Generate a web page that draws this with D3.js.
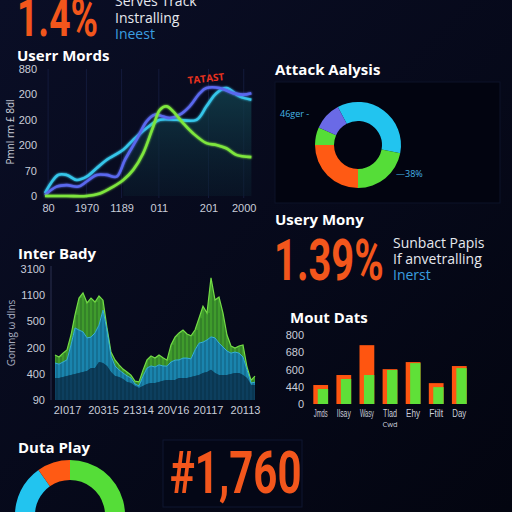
<!DOCTYPE html>
<html lang="en">
<head>
<meta charset="UTF-8">
<title>Dashboard</title>
<script src="https://d3js.org/d3.v7.min.js"></script>
<style>
  body { margin: 0; background: #060a1c; }
  svg { display: block; }
  text { font-family: 'Open Sans', 'DejaVu Sans', sans-serif; }
  .title { font-weight: 700; fill: #ffffff; font-size: 15px; }
  .axis text { fill: #c9cdd9; font-size: 11px; font-family: 'Liberation Sans', sans-serif; }
  .axis path, .axis line { display: none; }
  .big { font-family: Roboto, sans-serif; font-weight: 700; fill: #f2561c; }
  .note { fill: #e6e8ee; font-size: 14px; }
  .note.blue { fill: #3b9fe0; }
</style>
</head>
<body>
<svg width="512" height="512"></svg>
<script>
// ---- line chart (User Mords) ----
const lineTickPos = [1.5, 20, 37, 55, 79, 96];
const lineTickLabels = ["80", "1970", "1189", "011", "201", "2000"];
const lineYLabels = ["0", "70", "200", "200", "200", "880"];
const cyanLine = [[0,0.11],[6.4,0.83],[10.5,0.83],[15.3,0.63],[20.1,0.76],[24.9,1.09],[29.7,1.42],[37.8,1.82],[42.6,2.21],[49,2.67],[55.5,3.0],[63.5,3.0],[73.2,3.0],[78,3.53],[82.8,4.05],[87.6,4.25],[94,3.92],[99.7,3.79]];
const blueLine = [[0,0.04],[5.6,0.37],[10.5,0.43],[16.1,0.37],[20.1,0.57],[24.9,0.83],[29.7,0.83],[34.6,0.76],[38.6,1.42],[44.2,2.21],[49,2.93],[53,3.2],[57.1,3.13],[60.3,3.07],[65.1,3.2],[69.9,3.53],[74.8,4.05],[78,4.25],[84.4,4.25],[90.8,4.05],[95.7,3.99],[99.7,4.05]];
const greenLine = [[0,0],[10.5,0],[20.1,0],[26.5,0.1],[33,0.37],[37.8,0.63],[42.6,1.03],[47.4,1.68],[52.3,2.74],[55.5,3.39],[58.7,3.53],[61.9,3.33],[66.7,2.87],[71.5,2.47],[78,2.08],[82.8,2.01],[87.6,1.88],[92.4,1.62],[99.7,1.53]];

// ---- donut (Attack Aalysis) ----
const attackValues = [129, 79, 90, 24, 38];
const attackColors = ["#22c4ef", "#55dd38", "#ff5a14", "#55dd38", "#6a6ae6"];

// ---- stacked area (Inter Bady) ----
const bodyXLabels = ["2I017", "20315", "21314", "20V16", "20117", "20113"];
const bodyXPos = [3, 12, 20.75, 29.5, 38.25, 47.5];
const bodyYLabels = ["90", "400", "200", "500", "1100", "3100"];
const bodyDark = [0.84,0.84,0.88,0.92,0.95,0.99,1.03,1.07,1.11,1.22,1.22,1.45,1.41,1.30,1.07,0.92,0.88,0.80,0.69,0.65,0.53,0.46,0.53,0.61,0.65,0.65,0.69,0.73,0.76,0.76,0.76,0.84,0.84,0.84,0.88,0.92,0.95,1.03,1.07,1.15,1.03,0.95,0.95,0.95,0.99,1.03,1.03,0.95,0.84,0.57,0.57];
const bodyMid = [0.57,0.53,0.57,0.61,1.15,1.76,1.64,1.53,1.26,1.18,1.34,1.41,2.02,1.37,0.61,0.38,0.27,0.23,0.23,0.19,0.08,0.08,0.38,0.61,0.65,0.61,0.65,0.57,0.53,0.69,0.76,0.69,0.76,0.76,0.69,0.99,1.22,1.18,1.22,1.26,1.34,1.22,1.07,0.92,0.80,0.80,0.76,0.69,0.31,0.08,0.11];
const bodyTop = [0.31,0.27,0.34,0.38,0.38,0.50,1.22,1.49,1.34,1.49,1.18,1.11,0.38,0.08,0.15,0.23,0.19,0.15,0.15,0.11,0.11,0.15,0.23,0.31,0.38,0.34,0.38,0.31,0.23,0.65,0.88,1.03,1.07,0.92,0.88,0.76,0.95,1.37,1.03,2.25,1.45,1.76,1.30,0.61,0.27,0.15,0.27,0.46,0.11,0.11,0.23];

// ---- bars (Mout Dats) ----
const barCats = ["Jmds", "Ilsay", "Wasy", "Tlad", "Ehy", "Ftilt", "Day"];
const barOrange = [1.10, 1.68, 3.41, 2.02, 2.43, 1.21, 2.20];
const barGreen = [0.87, 1.45, 1.68, 1.97, 2.37, 0.98, 2.08];
const barYLabels = ["0", "440", "600", "680", "800"];

// ---- donut (Duta Play) ----
const playValues = [150, 60, 115, 35];
const playColors = ["#55dd38", "#22c4ef", "#22c4ef", "#ff5a14"];

const svg = d3.select("svg");
const defs = svg.append("defs");

const bg = defs.append("linearGradient").attr("id", "bg").attr("x1", 0).attr("y1", 0).attr("x2", 1).attr("y2", 1);
bg.append("stop").attr("offset", "0%").attr("stop-color", "#0a0e26");
bg.append("stop").attr("offset", "100%").attr("stop-color", "#030510");
svg.append("rect").attr("width", 512).attr("height", 512).attr("fill", "url(#bg)");

const fillGrad = defs.append("linearGradient").attr("id", "tealFill").attr("x1", 0).attr("y1", 0).attr("x2", 0).attr("y2", 1);
fillGrad.append("stop").attr("offset", "0%").attr("stop-color", "#12424e").attr("stop-opacity", 0.8);
fillGrad.append("stop").attr("offset", "100%").attr("stop-color", "#0a1c2c").attr("stop-opacity", 0.5);

const glow = defs.append("filter").attr("id", "glow").attr("x", "-10%").attr("y", "-10%").attr("width", "120%").attr("height", "120%");
glow.append("feGaussianBlur").attr("stdDeviation", 1.2).attr("result", "b");
const merge = glow.append("feMerge");
merge.append("feMergeNode").attr("in", "b");
merge.append("feMergeNode").attr("in", "SourceGraphic");

function bigText(x, y, sx, size, str) {
    svg.append("g").attr("transform", `translate(${x},${y}) scale(${sx},1)`)
        .append("text").attr("class", "big").attr("font-size", size).text(str);
}
function note(x, y, str, cls) {
    svg.append("text").attr("class", "note" + (cls ? " " + cls : "")).attr("x", x).attr("y", y).text(str);
}

// header
bigText(17, 36, 0.69, 54, "1.4%");
note(115, 6, "Serves Track");
note(115, 23, "Instralling");
note(115, 39, "Ineest", "blue");

// ===== line chart =====
svg.append("text").attr("class", "title").attr("x", 17).attr("y", 61).text("Userr Mords");

const lx = d3.scaleLinear().domain([0, 100]).range([45, 252]);
const ly = d3.scaleLinear().domain([0, 5]).range([196, 69]);

svg.append("g").selectAll("line").data(lineTickPos).join("line")
    .attr("x1", d => lx(d)).attr("x2", d => lx(d)).attr("y1", 69).attr("y2", 198)
    .attr("stroke", "#141b3c").attr("stroke-width", 1);

const fillPts = cyanLine.filter(d => d[0] >= 37);
svg.append("path").datum(fillPts)
    .attr("fill", "url(#tealFill)")
    .attr("d", d3.area().x(d => lx(d[0])).y0(ly(0)).y1(d => ly(d[1])).curve(d3.curveCatmullRom));

const lineGen = d3.line().x(d => lx(d[0])).y(d => ly(d[1])).curve(d3.curveCatmullRom);
[[cyanLine, "#36c6ea"], [blueLine, "#5a68ee"], [greenLine, "#7ee63e"]].forEach(([data, color]) => {
    svg.append("path").datum(data).attr("fill", "none").attr("stroke", color)
        .attr("stroke-width", 2.6).attr("filter", "url(#glow)").attr("d", lineGen);
});

svg.append("g").attr("class", "axis").attr("transform", "translate(45,0)")
    .call(d3.axisLeft(ly).tickValues(d3.range(6)).tickFormat(i => lineYLabels[i]).tickSize(0).tickPadding(8));
svg.append("g").attr("class", "axis").attr("transform", "translate(0,198)")
    .call(d3.axisBottom(lx).tickValues(lineTickPos).tickFormat((d, i) => lineTickLabels[i]).tickSize(0).tickPadding(6));
svg.append("text").attr("transform", "translate(14,132) rotate(-90)").attr("text-anchor", "middle")
    .attr("fill", "#c9cdd9").attr("font-size", 10).attr("font-family", "Liberation Sans, sans-serif").text("Pmnl rm £ 8dl");
svg.append("text").attr("transform", "translate(188,84) rotate(-6)")
    .attr("fill", "#e8321e").attr("font-size", 10).attr("font-weight", 700).text("TATAST");

// ===== attack donut =====
svg.append("text").attr("class", "title").attr("x", 275).attr("y", 75).text("Attack Aalysis");
svg.append("rect").attr("x", 275).attr("y", 82).attr("width", 225).attr("height", 121)
    .attr("fill", "#020410").attr("stroke", "#0d1328");
const pie1 = d3.pie().sort(null).startAngle(-28 * Math.PI / 180).endAngle((360 - 28) * Math.PI / 180);
const arc1 = d3.arc().innerRadius(24).outerRadius(43);
svg.append("g").attr("transform", "translate(358,145)").selectAll("path")
    .data(pie1(attackValues)).join("path")
    .attr("d", arc1).attr("fill", (d, i) => attackColors[i]);
svg.append("text").attr("x", 280).attr("y", 117).attr("fill", "#46b4e6").attr("font-size", 9).text("46ger -");
svg.append("text").attr("x", 396).attr("y", 177).attr("fill", "#46b4e6").attr("font-size", 9).text("—38%");

// ===== usery mony =====
svg.append("text").attr("class", "title").attr("x", 275).attr("y", 225).text("Usery Mony");
bigText(274, 280, 0.7, 57, "1.39%");
note(393, 248, "Sunbact Papis");
note(393, 264, "If anvetralling");
note(393, 280, "Inerst", "blue");

// ===== stacked area =====
svg.append("text").attr("class", "title").attr("x", 18).attr("y", 259).text("Inter Bady");
const bx = d3.scaleLinear().domain([0, bodyDark.length - 1]).range([55, 255]);
const by = d3.scaleLinear().domain([0, 5]).range([400, 269]);
const bodyRows = bodyDark.map((d, i) => ({ i, dark: d, mid: bodyMid[i], top: bodyTop[i] }));
const stack = d3.stack().keys(["dark", "mid", "top"])(bodyRows);
const layerColors = ["#0d3f5e", "#1a84ad", "#3f9b2c"];
const areaGen = d3.area().x(d => bx(d.data.i)).y0(d => by(d[0])).y1(d => by(d[1]));
svg.append("g").selectAll("path").data(stack).join("path")
    .attr("fill", (d, i) => layerColors[i]).attr("d", areaGen);
// striations
svg.append("g").selectAll("line").data(bodyRows).join("line")
    .attr("x1", d => bx(d.i) + 2).attr("x2", d => bx(d.i) + 2)
    .attr("y1", by(0)).attr("y2", d => by(d.dark + d.mid + d.top))
    .attr("stroke", "#04101c").attr("stroke-opacity", 0.35).attr("stroke-width", 1);
svg.append("path").datum(stack[2]).attr("fill", "none").attr("stroke", "#74dc46").attr("stroke-width", 1.2)
    .attr("d", d3.line().x(d => bx(d.data.i)).y(d => by(d[1])));
svg.append("path").datum(stack[1]).attr("fill", "none").attr("stroke", "#36b2da").attr("stroke-width", 1)
    .attr("d", d3.line().x(d => bx(d.data.i)).y(d => by(d[1])));
svg.append("line").attr("x1", 51).attr("x2", 51).attr("y1", 266).attr("y2", 400).attr("stroke", "#2a3050");
svg.append("g").attr("class", "axis").attr("transform", "translate(51,0)")
    .call(d3.axisLeft(by).tickValues(d3.range(6)).tickFormat(i => bodyYLabels[i]).tickSize(0).tickPadding(6));
svg.append("g").attr("class", "axis").attr("transform", "translate(0,401)")
    .call(d3.axisBottom(bx).tickValues(bodyXPos).tickFormat((d, i) => bodyXLabels[i]).tickSize(0).tickPadding(5))
    .selectAll("text").attr("font-size", 10);
svg.append("text").attr("transform", "translate(15,333) rotate(-90)").attr("text-anchor", "middle")
    .attr("fill", "#a8aec0").attr("font-size", 10).attr("font-family", "Liberation Sans, sans-serif").text("Gomng ω dlns");

// ===== bars =====
svg.append("text").attr("class", "title").attr("x", 290).attr("y", 323).text("Mout Dats");
const barX = d3.scaleBand().domain(barCats).range([311, 469]).paddingInner(0.36).paddingOuter(0.1);
const barY = d3.scaleLinear().domain([0, 4]).range([404, 335]);
svg.append("g").selectAll("rect").data(barCats).join("rect")
    .attr("x", d => barX(d)).attr("width", barX.bandwidth())
    .attr("y", (d, i) => barY(barOrange[i])).attr("height", (d, i) => barY(0) - barY(barOrange[i]))
    .attr("fill", "#ff5510");
svg.append("g").selectAll("rect").data(barCats).join("rect")
    .attr("x", d => barX(d) + barX.bandwidth() * 0.3).attr("width", barX.bandwidth() * 0.7)
    .attr("y", (d, i) => barY(barGreen[i])).attr("height", (d, i) => barY(0) - barY(barGreen[i]))
    .attr("fill", "#5fe038");
svg.append("g").attr("class", "axis").attr("transform", "translate(304,0)")
    .call(d3.axisLeft(barY).tickValues(d3.range(5)).tickFormat(i => barYLabels[i]).tickSize(0).tickPadding(0))
    .selectAll("text").attr("font-size", 9);
const bxAxis = svg.append("g").attr("class", "axis").attr("transform", "translate(0,404)")
    .call(d3.axisBottom(barX).tickSize(0).tickPadding(5));
bxAxis.selectAll("text").attr("font-size", 7.5).attr("textLength", 14).attr("lengthAdjust", "spacingAndGlyphs");
svg.append("text").attr("x", barX("Tlad") + barX.bandwidth() / 2).attr("y", 427).attr("text-anchor", "middle")
    .attr("fill", "#c9cdd9").attr("font-size", 7.5).attr("font-family", "Liberation Sans, sans-serif").text("Cwd");

// ===== duta play =====
svg.append("text").attr("class", "title").attr("x", 18).attr("y", 453).attr("font-size", 14).text("Duta Play");
const pie2 = d3.pie().sort(null);
const arc2 = d3.arc().innerRadius(35).outerRadius(55);
svg.append("g").attr("transform", "translate(70,515)").selectAll("path")
    .data(pie2(playValues)).join("path")
    .attr("d", arc2).attr("fill", (d, i) => playColors[i]);

svg.append("rect").attr("x", 163).attr("y", 440).attr("width", 139).attr("height", 67)
    .attr("fill", "#040716").attr("stroke", "#0f1730");
bigText(170, 493, 0.7, 60, "#1,760");
</script>
</body>
</html>
